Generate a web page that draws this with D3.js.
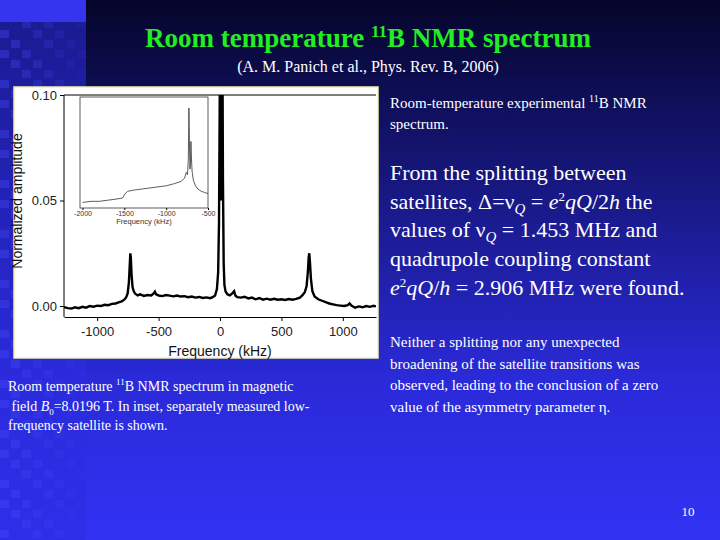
<!DOCTYPE html>
<html><head><meta charset="utf-8">
<script src="https://cdn.jsdelivr.net/npm/d3@7"></script>
<style>body{margin:0;background:#000} .serif{font-family:"Liberation Serif","DejaVu Serif","Times New Roman",serif}</style>
</head><body><svg id="slide" width="720" height="540"></svg>
<script>
// main spectrum (kHz, normalized amplitude)
const freq = [-1270,-1240,-1210,-1180,-1150,-1120,-1090,-1060,-1030,-1000,-970,-940,-910,-880,-850,-820,-800,-780,-765,-752,-742,-735,-730,-726,-720,-712,-702,-690,-670,-650,-620,-590,-560,-540,-530,-520,-500,-470,-440,-410,-380,-350,-320,-290,-260,-230,-200,-170,-140,-110,-80,-60,-40,-25,-15,-8,-3,0,4,8,12,16,20,24,30,36,45,60,80,100,115,125,140,170,200,230,260,290,320,350,380,410,440,470,500,530,560,590,620,650,670,690,705,715,722,727,732,740,752,770,800,830,860,890,920,950,980,1010,1040,1055,1070,1100,1130,1160,1190,1220,1250,1270];
const amp = [-0.0005,-0.001,-0.0012,-0.0006,-0.001,-0.0004,-0.0008,0.0000,-0.0003,0.0002,0.0000,0.0006,0.0004,0.0010,0.0012,0.0018,0.0022,0.0030,0.0040,0.0060,0.0110,0.0190,0.0250,0.0230,0.0150,0.0090,0.0070,0.0058,0.0050,0.0055,0.0048,0.0052,0.0050,0.0060,0.0068,0.0055,0.0050,0.0047,0.0052,0.0049,0.0046,0.0050,0.0045,0.0047,0.0042,0.0045,0.0040,0.0043,0.0038,0.0041,0.0037,0.0042,0.0050,0.0080,0.0160,0.0400,0.0900,0.1200,0.0800,0.0500,0.0700,0.1200,0.1200,0.0600,0.0200,0.0100,0.0070,0.0055,0.0050,0.0060,0.0070,0.0050,0.0042,0.0040,0.0044,0.0036,0.0040,0.0032,0.0038,0.0030,0.0035,0.0030,0.0034,0.0030,0.0032,0.0029,0.0033,0.0030,0.0034,0.0040,0.0050,0.0065,0.0095,0.0160,0.0230,0.0250,0.0210,0.0130,0.0070,0.0045,0.0032,0.0025,0.0018,0.0012,0.0008,0.0004,0.0002,0.0000,0.0004,0.0012,0.0002,-0.0008,-0.0002,-0.0006,0.0000,-0.0004,0.0001,-0.0002];
// inset: low-frequency satellite (kHz, relative height)
const insetFreq = [-2000,-1900,-1800,-1700,-1600,-1520,-1490,-1460,-1400,-1300,-1200,-1100,-1000,-900,-820,-780,-760,-745,-735,-728,-722,-716,-710,-704,-698,-690,-675,-650,-620,-580,-540,-500];
const insetAmp = [0.05,0.06,0.06,0.07,0.08,0.09,0.13,0.15,0.16,0.17,0.18,0.19,0.20,0.22,0.24,0.27,0.32,0.30,0.45,0.90,0.60,0.35,0.40,0.60,0.45,0.33,0.25,0.20,0.17,0.15,0.14,0.13];
const xTicks = [-1000,-500,0,500,1000];
const yTicks = [0,0.05,0.10];
const insetTicks = [-2000,-1500,-1000,-500];

const svg = d3.select('#slide');
const defs = svg.append('defs');
const bg = defs.append('linearGradient').attr('id','bg').attr('x1',0).attr('y1',0).attr('x2',0).attr('y2',1);
bg.append('stop').attr('offset','0%').attr('stop-color','#05052a');
bg.append('stop').attr('offset','30%').attr('stop-color','#151575');
bg.append('stop').attr('offset','70%').attr('stop-color','#2a2ad8');
bg.append('stop').attr('offset','100%').attr('stop-color','#3232f4');
svg.append('rect').attr('width',720).attr('height',540).attr('fill','url(#bg)');

// left column of squares
const strip = svg.append('g');
strip.append('rect').attr('x',0).attr('y',0).attr('width',86).attr('height',540).attr('fill','#2c2ce0').attr('opacity',0.55);
for (let r = 0; r < 54; r++) {
  for (let c = 0; c < 8; c++) {
    if ((r * 7 + c * 3) % 5 < 2) {
      strip.append('rect').attr('x', c * 11).attr('y', r * 10).attr('width', 9).attr('height', 8)
        .attr('fill', '#4a4af8').attr('opacity', 0.35 - c * 0.04);
    }
  }
}
svg.append('rect').attr('x',0).attr('y',0).attr('width',86).attr('height',22).attr('fill','#3535f0');

// title
svg.append('text').attr('class','serif').attr('x',368).attr('y',47).attr('text-anchor','middle')
  .attr('font-weight','bold').attr('font-size',27).attr('fill','#22ee22')
  .html('Room temperature <tspan font-size="17" dy="-10">11</tspan><tspan dy="10">B NMR spectrum</tspan>');
svg.append('text').attr('class','serif').attr('x',368).attr('y',72).attr('text-anchor','middle')
  .attr('font-size',16).attr('fill','#fff')
  .text('(A. M. Panich et al., Phys. Rev. B, 2006)');

// chart panel
svg.append('rect').attr('x',14).attr('y',87).attr('width',364).attr('height',271).attr('fill','#fff')
  .attr('stroke','#f4f0b0').attr('stroke-width',1.5);

const x = d3.scaleLinear().domain([-1270,1270]).range([64,376]);
const y = d3.scaleLinear().domain([-0.0052,0.10]).range([317,95]);
const plot = svg.append('g').attr('font-family','Liberation Sans');
defs.append('clipPath').attr('id','clip').append('rect').attr('x',64).attr('y',95).attr('width',312).attr('height',222);

plot.append('path').datum(freq.map((f,i)=>[f,amp[i]]))
  .attr('clip-path','url(#clip)')
  .attr('d', d3.line().x(d=>x(d[0])).y(d=>y(d[1])))
  .attr('fill','none').attr('stroke','#000').attr('stroke-width',2.4);

const plain = d => String(d);
plot.append('line').attr('x1',64).attr('x2',376).attr('y1',95).attr('y2',95).attr('stroke','#000').attr('stroke-width',1);
plot.append('g').attr('transform','translate(64,0)')
  .call(d3.axisLeft(y).tickValues(yTicks).tickFormat(d3.format('.2f')).tickSize(4).tickSizeOuter(0))
  .call(g=>g.selectAll('text').attr('font-size',13).attr('fill','#222'))
  .call(g=>g.select('.domain').attr('d','M0,95V317'));
plot.append('g').attr('transform','translate(0,317)')
  .call(d3.axisBottom(x).tickValues(xTicks).tickFormat(plain).tickSize(4).tickSizeOuter(0))
  .call(g=>g.selectAll('text').attr('font-size',13).attr('fill','#222').attr('dy','0.9em'));
plot.append('text').attr('x',220).attr('y',356).attr('text-anchor','middle').attr('font-size',14).attr('fill','#111').text('Frequency (kHz)');
plot.append('text').attr('transform','translate(22,201) rotate(-90)').attr('text-anchor','middle').attr('font-size',14).attr('fill','#111').text('Normalized amplitude');

// inset
const ix = d3.scaleLinear().domain([-2030,-500]).range([80,208]);
const iy = d3.scaleLinear().domain([0,1]).range([208,97]);
plot.append('rect').attr('x',80).attr('y',97).attr('width',128).attr('height',111).attr('fill','#fff').attr('stroke','#333').attr('stroke-width',0.8);
plot.append('path').datum(insetFreq.map((f,i)=>[f,insetAmp[i]]))
  .attr('d', d3.line().x(d=>ix(d[0])).y(d=>iy(d[1])))
  .attr('fill','none').attr('stroke','#333').attr('stroke-width',0.8);
plot.append('g').attr('transform','translate(0,208)')
  .call(d3.axisBottom(ix).tickValues(insetTicks).tickFormat(plain).tickSize(2).tickSizeOuter(0))
  .call(g=>g.select('.domain').remove())
  .call(g=>g.selectAll('text').attr('font-size',7).attr('fill','#333').attr('dy','0.4em'));
plot.append('text').attr('x',144).attr('y',224).attr('text-anchor','middle').attr('font-size',7.5).attr('fill','#333').text('Frequency (kHz)');

// texts
function para(xp, lines, y0, lh, size) {
  const t = svg.append('text').attr('class','serif').attr('font-size',size).attr('fill','#fff');
  lines.forEach((l,i)=>t.append('tspan').attr('x',xp).attr('y',y0+i*lh).html(l));
}
para(390, ['Room-temperature experimental <tspan font-size="10" dy="-6">11</tspan><tspan dy="6">B NMR</tspan>','spectrum.'], 108, 21, 15);
para(390, ['From the splitting between',
  'satellites, Δ=ν<tspan font-size="15" dy="5" font-style="italic">Q</tspan><tspan dy="-5"> = </tspan><tspan font-style="italic">e</tspan><tspan font-size="13" dy="-8">2</tspan><tspan dy="8" font-style="italic">qQ</tspan>/2<tspan font-style="italic">h</tspan> the',
  'values of ν<tspan font-size="15" dy="5" font-style="italic">Q</tspan><tspan dy="-5"> = 1.453 MHz and</tspan>',
  'quadrupole coupling constant',
  '<tspan font-style="italic">e</tspan><tspan font-size="13" dy="-8">2</tspan><tspan dy="8" font-style="italic">qQ</tspan>/<tspan font-style="italic">h</tspan> = 2.906 MHz were found.'], 180, 28.7, 22);
para(390, ['Neither a splitting nor any unexpected','broadening of the satellite transitions was','observed, leading to the conclusion of a zero','value of the asymmetry parameter η.'], 347, 21.5, 15);
para(8, ['Room temperature <tspan font-size="9" dy="-6">11</tspan><tspan dy="6">B NMR spectrum in magnetic</tspan>',
  ' field <tspan font-style="italic">B</tspan><tspan font-size="9" dy="4">0</tspan><tspan dy="-4">=8.0196 T. In inset, separately measured low-</tspan>',
  'frequency satellite is shown.'], 391, 19.5, 14);
svg.append('text').attr('class','serif').attr('x',688).attr('y',516).attr('text-anchor','middle').attr('font-size',13).attr('fill','#fff').text('10');
</script></body></html>
